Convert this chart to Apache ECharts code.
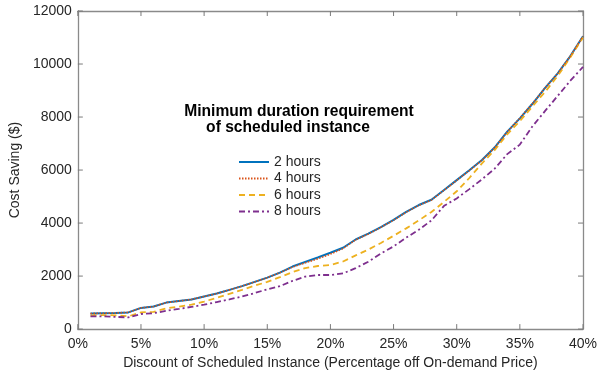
<!DOCTYPE html>
<html><head><meta charset="utf-8">
<script src="https://cdn.jsdelivr.net/npm/echarts@6/dist/echarts.min.js"></script>
<style>html,body{margin:0;padding:0;background:#fff}#c{width:608px;height:375px}</style>
</head><body><div id="c"></div>
<script>
const discounts = [1,2,3,4,5,6,7,8,9,10,11,12,13,14,15,16,17,18,19,20,21,22,23,24,25,26,27,28,29,30,31,32,33,34,35,36,37,38,39,40];
const seriesNames = ['2 hours','4 hours','6 hours','8 hours'];
const hours2 = [590,600,610,630,800,850,1000,1060,1120,1230,1340,1480,1620,1780,1940,2130,2360,2530,2700,2880,3070,3380,3600,3850,4120,4420,4680,4880,5250,5620,5990,6380,6850,7450,7950,8500,9100,9650,10300,11050];
const hours4 = [590,600,610,630,800,850,1000,1060,1120,1230,1340,1480,1620,1780,1940,2130,2340,2500,2650,2830,3040,3370,3590,3840,4110,4410,4670,4870,5240,5610,5980,6370,6840,7440,7960,8510,9100,9650,10300,11050];
const hours6 = [520,530,520,480,630,650,780,850,920,1040,1180,1330,1480,1640,1780,1960,2150,2300,2380,2420,2550,2780,3000,3250,3520,3800,4100,4420,4800,5200,5700,6250,6750,7350,7850,8400,8950,9550,10250,11000];
const hours8 = [480,480,460,440,570,600,690,760,840,920,1020,1120,1230,1360,1500,1620,1820,1980,2040,2040,2100,2300,2540,2850,3120,3450,3750,4100,4650,4930,5280,5650,6050,6600,6960,7650,8230,8800,9370,9890];
const yTicks = [0,2000,4000,6000,8000,10000,12000];
const xTicks = [0,5,10,15,20,25,30,35,40];

const values = [hours2, hours4, hours6, hours8];
const colors = ['#0072BD','#D95319','#EDB120','#7E2F8E'];
const lineTypes = ['solid',[1.5,1.5],[6,4],[6,3,2,3]];
const widths = [2,1.6,1.8,1.8];
const axisGray = '#8a8a8a', txt = '#262626', font = 'Liberation Sans';
const X = {min:0,max:40,interval:5}, Y = {min:0,max:12000,interval:2000};
const TL = 5;

const chart = echarts.init(document.getElementById('c'));
function frameAx(range, pos){
  return Object.assign({type:'value',position:pos,
    axisLine:{show:true,onZero:false,lineStyle:{color:axisGray,width:1.3}},
    axisTick:{show:false},axisLabel:{show:false},splitLine:{show:false}}, range);
}
const tickStyle = {stroke:'#7a7a7a',lineWidth:1};
chart.setOption({
  animation:false,
  textStyle:{fontFamily:font},
  grid:{left:77,right:25,top:11,bottom:40,containLabel:false},
  xAxis:[
    Object.assign(frameAx(X,'bottom'),{
      axisLabel:{show:true,color:txt,fontSize:14,margin:8,formatter:v=>v+'%'},
      name:'Discount of Scheduled Instance (Percentage off On-demand Price)',
      nameLocation:'middle',nameGap:24,nameTextStyle:{color:txt,fontSize:14}}),
    frameAx(X,'top')
  ],
  yAxis:[
    Object.assign(frameAx(Y,'left'),{
      axisLabel:{show:true,color:txt,fontSize:14,margin:6,formatter:v=>String(v)},
      name:'Cost Saving ($)',nameLocation:'middle',nameGap:49,
      nameTextStyle:{color:txt,fontSize:14}}),
    frameAx(Y,'right')
  ],
  legend:{
    show:true,orient:'vertical',left:238,top:155,padding:0,itemWidth:30,itemHeight:14,itemGap:2.5,
    itemStyle:{opacity:0},
    textStyle:{color:txt,fontSize:14},
    data:seriesNames
  },
  graphic:[
    {type:'text',style:{text:'Minimum duration requirement',font:'bold 15.6px "Liberation Sans"',fill:'#000',x:299,y:112,align:'center',verticalAlign:'middle'}},
    {type:'text',style:{text:'of scheduled instance',font:'bold 15.6px "Liberation Sans"',fill:'#000',x:288,y:128,align:'center',verticalAlign:'middle'}}
  ],
  series: seriesNames.map((n,i)=>({
    name:n,type:'line',symbol:'none',showSymbol:false,
    xAxisIndex:0,yAxisIndex:0,
    data:discounts.map((d,j)=>[d,values[i][j]]),
    itemStyle:{color:colors[i]},
    lineStyle:{color:colors[i],width:widths[i],type:lineTypes[i]},
    z:[2,3,2,2][i]
  })).concat([
    {type:'custom',name:'xticks',silent:true,clip:false,z:1,
     data:xTicks.map(v=>[v,0]),
     renderItem:(params,api)=>{
       const x = api.coord([api.value(0),0])[0];
       const cs = params.coordSys;
       const b = cs.y+cs.height, t = cs.y;
       return {type:'group',children:[
         {type:'line',shape:{x1:x,y1:b,x2:x,y2:b-TL},style:tickStyle},
         {type:'line',shape:{x1:x,y1:t,x2:x,y2:t+TL},style:tickStyle}
       ]};
     }},
    {type:'custom',name:'yticks',silent:true,clip:false,z:1,
     data:yTicks.map(v=>[0,v]),
     renderItem:(params,api)=>{
       const y = api.coord([0,api.value(1)])[1];
       const cs = params.coordSys;
       const l = cs.x, r = cs.x+cs.width;
       return {type:'group',children:[
         {type:'line',shape:{x1:l,y1:y,x2:l+TL,y2:y},style:tickStyle},
         {type:'line',shape:{x1:r,y1:y,x2:r-TL,y2:y},style:tickStyle}
       ]};
     }}
  ])
});
</script></body></html>
